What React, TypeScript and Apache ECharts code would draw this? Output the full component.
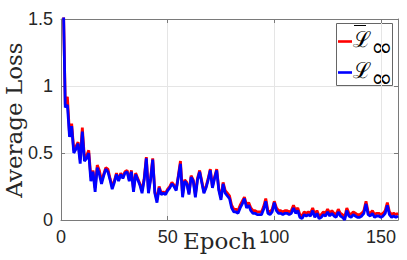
import React, { useEffect, useRef } from "react";
import * as echarts from "echarts";

const xTicks = [0, 50, 100, 150];
const yTicks = [0, 0.5, 1, 1.5];

// L-bar-infinity (red), one value per epoch starting at epoch 1
const redLoss = [
  1.72, 0.86, 0.92, 0.64, 0.72, 0.52, 0.55, 0.58, 0.45, 0.69,
  0.46, 0.48, 0.52, 0.32, 0.37, 0.24, 0.41, 0.37, 0.29, 0.34,
  0.39, 0.38, 0.31, 0.25, 0.29, 0.35, 0.30, 0.35, 0.32, 0.36,
  0.37, 0.30, 0.37, 0.23, 0.35, 0.31, 0.27, 0.22, 0.31, 0.47,
  0.22, 0.31, 0.46, 0.21, 0.15, 0.25, 0.20, 0.21, 0.20, 0.23,
  0.25, 0.28, 0.26, 0.23, 0.33, 0.44, 0.19, 0.30, 0.28, 0.20,
  0.33, 0.30, 0.19, 0.31, 0.37, 0.29, 0.21, 0.25, 0.31, 0.38,
  0.25, 0.32, 0.38, 0.23, 0.17, 0.28, 0.22, 0.20, 0.18, 0.11,
  0.08, 0.08, 0.07, 0.11, 0.14, 0.17, 0.11, 0.13, 0.09, 0.07,
  0.07, 0.06, 0.06, 0.06, 0.10, 0.16, 0.07, 0.06, 0.08, 0.14,
  0.09, 0.07, 0.07, 0.06, 0.07, 0.07, 0.06, 0.07, 0.11, 0.07,
  0.09, 0.04, 0.03, 0.06, 0.05, 0.06, 0.05, 0.09, 0.04, 0.07,
  0.03, 0.04, 0.06, 0.05, 0.08, 0.05, 0.07, 0.05, 0.04, 0.08,
  0.05, 0.04, 0.02, 0.09, 0.05, 0.04, 0.06, 0.05, 0.04, 0.04,
  0.05, 0.07, 0.14, 0.06, 0.05, 0.07, 0.04, 0.05, 0.05, 0.04,
  0.05, 0.07, 0.13, 0.06, 0.04, 0.05, 0.04, 0.05,
];

// L-infinity (blue)
const blueLoss = [
  1.72, 0.84, 0.86, 0.62, 0.70, 0.50, 0.53, 0.57, 0.42, 0.66,
  0.44, 0.46, 0.50, 0.29, 0.36, 0.21, 0.39, 0.34, 0.27, 0.33,
  0.38, 0.36, 0.30, 0.23, 0.28, 0.34, 0.29, 0.34, 0.31, 0.35,
  0.36, 0.29, 0.36, 0.21, 0.34, 0.30, 0.26, 0.20, 0.30, 0.46,
  0.20, 0.30, 0.45, 0.20, 0.13, 0.24, 0.19, 0.20, 0.19, 0.22,
  0.24, 0.27, 0.25, 0.22, 0.32, 0.42, 0.17, 0.29, 0.27, 0.19,
  0.32, 0.29, 0.17, 0.30, 0.36, 0.28, 0.20, 0.24, 0.30, 0.37,
  0.24, 0.31, 0.37, 0.22, 0.15, 0.27, 0.20, 0.18, 0.16, 0.09,
  0.06, 0.06, 0.05, 0.09, 0.12, 0.16, 0.09, 0.11, 0.07, 0.05,
  0.05, 0.04, 0.04, 0.04, 0.08, 0.14, 0.05, 0.04, 0.06, 0.13,
  0.07, 0.05, 0.05, 0.04, 0.05, 0.05, 0.04, 0.05, 0.09, 0.05,
  0.07, 0.02, 0.01, 0.04, 0.03, 0.04, 0.03, 0.07, 0.02, 0.05,
  0.01, 0.02, 0.04, 0.03, 0.06, 0.03, 0.05, 0.03, 0.02, 0.06,
  0.03, 0.02, 0.00, 0.07, 0.03, 0.02, 0.04, 0.03, 0.02, 0.02,
  0.03, 0.05, 0.12, 0.04, 0.03, 0.05, 0.02, 0.03, 0.03, 0.02,
  0.03, 0.05, 0.11, 0.04, 0.02, 0.03, 0.02, 0.03,
];

const xMax = 158;

const axisColor = "#7a7a7a";
const labelColor = "#262626";

export default function App() {
  const ref = useRef<HTMLDivElement>(null);
  useEffect(() => {
    if (!ref.current) return;
    const chart = echarts.init(ref.current, undefined, { renderer: "svg" });
    const toPairs = (arr: number[]) => arr.map((v, i) => [i + 1, v]);
    const fmtX = (v: number) => (xTicks.includes(v) ? String(v) : "");
    const fmtY = (v: number) => (yTicks.includes(v) ? String(v) : "");
    const baseAxis = {
      axisLine: { show: true, onZero: false, lineStyle: { color: axisColor, width: 1 } },
      axisTick: { show: true, inside: true, length: 4, lineStyle: { color: axisColor } },
    };
    chart.setOption({
      animation: false,
      backgroundColor: "#ffffff",
      grid: { left: 61, top: 19, right: 9, bottom: 40, containLabel: false },
      xAxis: [
        {
          type: "value",
          min: 0,
          max: xMax,
          interval: 50,
          ...baseAxis,
          axisLabel: {
            color: labelColor,
            fontSize: 18,
            fontFamily: "Liberation Sans",
            margin: 8,
            formatter: fmtX,
            showMaxLabel: true,
          },
          splitLine: { show: true, lineStyle: { color: "#e5e5e5", width: 1 } },
        },
        {
          type: "value",
          position: "top",
          min: 0,
          max: xMax,
          interval: 50,
          ...baseAxis,
          axisLabel: { show: false },
          splitLine: { show: false },
        },
      ],
      yAxis: [
        {
          type: "value",
          min: 0,
          max: 1.5,
          interval: 0.5,
          ...baseAxis,
          axisLabel: {
            color: labelColor,
            fontSize: 18,
            fontFamily: "Liberation Sans",
            margin: 8,
            formatter: fmtY,
          },
          splitLine: { show: true, lineStyle: { color: "#e5e5e5", width: 1 } },
        },
        {
          type: "value",
          position: "right",
          min: 0,
          max: 1.5,
          interval: 0.5,
          ...baseAxis,
          axisLabel: { show: false },
          splitLine: { show: false },
        },
      ],
      series: [
        {
          name: "Lbar",
          type: "line",
          data: toPairs(redLoss),
          showSymbol: false,
          symbol: "none",
          lineStyle: { color: "#ff0000", width: 2.8 },
          clip: true,
        },
        {
          name: "L",
          type: "line",
          data: toPairs(blueLoss),
          showSymbol: false,
          symbol: "none",
          lineStyle: { color: "#0000ff", width: 2.8 },
          clip: true,
        },
      ],
      graphic: [
        {
          type: "text",
          left: 183,
          top: 229,
          style: {
            text: "Epoch",
            fontFamily: "DejaVu Serif",
            fontSize: 23,
            fill: labelColor,
          },
          z: 10,
        },
        {
          type: "text",
          x: 14,
          y: 120,
          rotation: Math.PI / 2,
          style: {
            text: "Average Loss",
            fontFamily: "DejaVu Serif",
            fontSize: 23,
            fill: labelColor,
            align: "center",
            verticalAlign: "middle",
          },
          z: 10,
        },
        {
          type: "group",
          z: 20,
          children: [
            {
              type: "rect",
              shape: { x: 336.5, y: 23.5, width: 56, height: 62 },
              style: { fill: "#ffffff", stroke: "#666666", lineWidth: 1 },
            },
            {
              type: "line",
              shape: { x1: 338, y1: 41.5, x2: 352, y2: 41.5 },
              style: { stroke: "#ff0000", lineWidth: 2.6 },
            },
            {
              type: "line",
              shape: { x1: 338, y1: 72.5, x2: 352, y2: 72.5 },
              style: { stroke: "#0000ff", lineWidth: 2.6 },
            },
            {
              type: "line",
              shape: { x1: 354, y1: 25.5, x2: 366, y2: 25.5 },
              style: { stroke: "#000000", lineWidth: 1 },
            },
            {
              type: "text",
              x: 353,
              y: 39,
              style: {
                text: "ℒ",
                fontFamily: "DejaVu Serif",
                fontSize: 22,
                fill: "#000000",
                verticalAlign: "middle",
              },
            },
            {
              type: "text",
              x: 371,
              y: 47,
              style: {
                text: "∞",
                fontFamily: "DejaVu Sans",
                fontSize: 26,
                fill: "#000000",
                verticalAlign: "middle",
              },
            },
            {
              type: "text",
              x: 353,
              y: 70,
              style: {
                text: "ℒ",
                fontFamily: "DejaVu Serif",
                fontSize: 22,
                fill: "#000000",
                verticalAlign: "middle",
              },
            },
            {
              type: "text",
              x: 371,
              y: 78,
              style: {
                text: "∞",
                fontFamily: "DejaVu Sans",
                fontSize: 26,
                fill: "#000000",
                verticalAlign: "middle",
              },
            },
          ],
        },
      ],
    });
    return () => chart.dispose();
  }, []);
  return <div ref={ref} style={{ width: 407, height: 260, position: "absolute", left: 0, top: 0 }} />;
}
